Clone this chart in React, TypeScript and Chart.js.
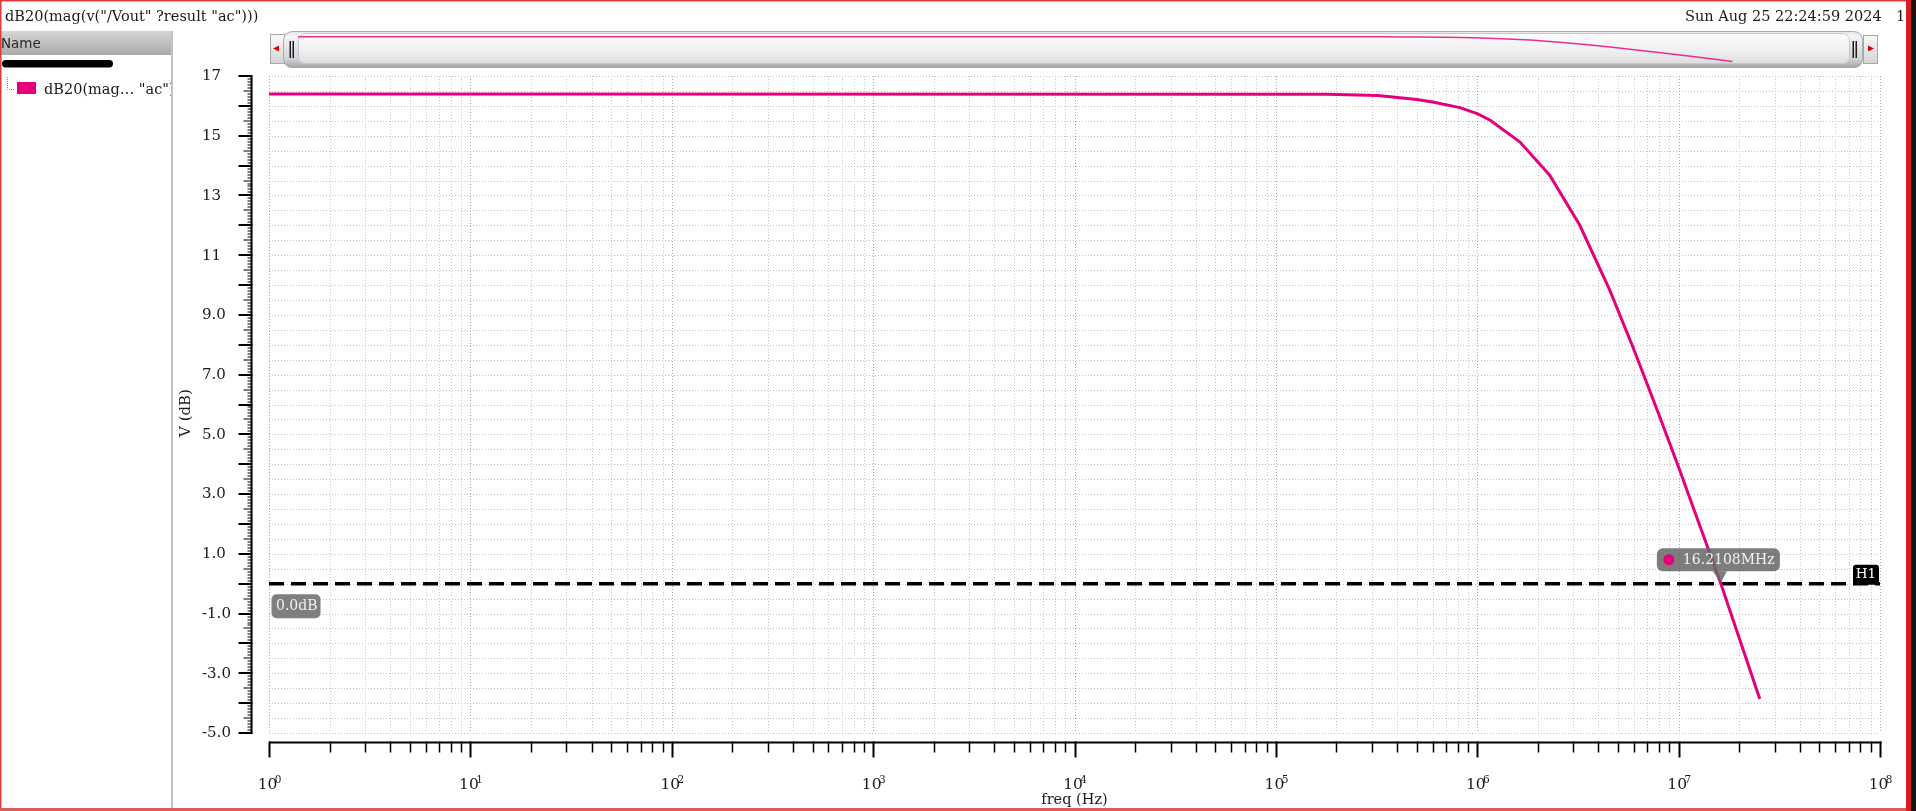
import React, { useEffect, useRef } from "react";
import { Chart, registerables } from "chart.js";

Chart.register(...registerables);

// ---------------- data ----------------
const freqHz = [1, 1.79e5, 3.2e5, 3.8e5, 5.0e5, 6.0e5, 8.2e5, 1.0e6, 1.16e6, 1.63e6, 2.29e6, 3.23e6, 4.55e6, 6.07e6, 8.1e6, 1.0e7, 1.621e7, 2.53e7];
const gainDb = [16.4, 16.39, 16.35, 16.3, 16.21, 16.13, 15.94, 15.74, 15.52, 14.79, 13.68, 12.0, 9.83, 7.75, 5.55, 3.9, 0.0, -3.86];

const yTickValues = [17, 15, 13, 11, 9, 7, 5, 3, 1, -1, -3, -5];
const yTickLabels = ["17", "15", "13", "11", "9.0", "7.0", "5.0", "3.0", "1.0", "-1.0", "-3.0", "-5.0"];
const xDecadeExponents = ["0", "1", "2", "3", "4", "5", "6", "7", "8"];

const markerLevelDb = 0;
const markerLevelLabel = "0.0dB";
const markerFreqHz = 16.2108e6;
const markerFreqLabel = "16.2108MHz";
const markerName = "H1";

const titleText = 'dB20(mag(v("/Vout" ?result "ac")))';
const dateText = "Sun Aug 25 22:24:59 2024";
const windowNumber = "1";
const legendText = 'dB20(mag\u2026 "ac")';
const panelHeader = "Name";
const xAxisTitle = "freq (Hz)";
const yAxisTitle = "V (dB)";

// ---------------- styling ----------------
const W = 1916;
const H = 811;
const CURVE = "#e4007c";
const SERIF = '"DejaVu Serif"';
const SANS = '"DejaVu Sans"';

function roundRect(ctx: CanvasRenderingContext2D, x: number, y: number, w: number, h: number, r: number) {
  ctx.beginPath();
  ctx.moveTo(x + r, y);
  ctx.lineTo(x + w - r, y);
  ctx.arcTo(x + w, y, x + w, y + r, r);
  ctx.lineTo(x + w, y + h - r);
  ctx.arcTo(x + w, y + h, x + w - r, y + h, r);
  ctx.lineTo(x + r, y + h);
  ctx.arcTo(x, y + h, x, y + h - r, r);
  ctx.lineTo(x, y + r);
  ctx.arcTo(x, y, x + r, y, r);
  ctx.closePath();
}

function drawChrome(ctx: CanvasRenderingContext2D) {
  ctx.save();
  ctx.fillStyle = "#ffffff";
  ctx.fillRect(0, 0, W, H);

  // title + date
  ctx.fillStyle = "#1a1a1a";
  ctx.font = `14.5px ${SERIF}`;
  ctx.textAlign = "left";
  ctx.textBaseline = "alphabetic";
  ctx.fillText(titleText, 5, 20.5);
  ctx.fillText(dateText, 1685, 20.5);
  ctx.fillText(windowNumber, 1896, 20.5);

  // left panel header
  const g = ctx.createLinearGradient(0, 31, 0, 55);
  g.addColorStop(0, "#d6d6d6");
  g.addColorStop(1, "#aaaaaa");
  ctx.fillStyle = g;
  ctx.fillRect(0, 31, 172, 24);
  ctx.fillStyle = "#2a2a2a";
  ctx.font = `13.5px ${SANS}`;
  ctx.fillText(panelHeader, 1, 47.5);

  // panel separator
  ctx.fillStyle = "#c2c2c2";
  ctx.fillRect(171, 31, 2, 777);

  // black bar
  ctx.fillStyle = "#000";
  roundRect(ctx, 2, 60, 111, 7.5, 3.7);
  ctx.fill();

  // tree dotted lines
  ctx.strokeStyle = "#8a8a8a";
  ctx.lineWidth = 1;
  ctx.setLineDash([1, 1]);
  ctx.beginPath();
  ctx.moveTo(7.5, 77);
  ctx.lineTo(7.5, 89.5);
  ctx.lineTo(14, 89.5);
  ctx.stroke();
  ctx.setLineDash([]);

  // legend swatch + text
  ctx.fillStyle = CURVE;
  ctx.fillRect(17, 82, 19, 12);
  ctx.save();
  ctx.beginPath();
  ctx.rect(0, 70, 171, 40);
  ctx.clip();
  ctx.fillStyle = "#1a1a1a";
  ctx.font = `14.5px ${SERIF}`;
  ctx.fillText(legendText, 44, 93.5);
  ctx.restore();

  // scrollbar: left button
  const bg = ctx.createLinearGradient(0, 34, 0, 64);
  bg.addColorStop(0, "#fafafa");
  bg.addColorStop(1, "#d4d4d4");
  ctx.fillStyle = bg;
  ctx.fillRect(270, 34, 14, 30);
  ctx.strokeStyle = "#a8a8a8";
  ctx.lineWidth = 1;
  ctx.strokeRect(270.5, 34.5, 14, 29);
  ctx.fillStyle = "#e00000";
  ctx.beginPath();
  ctx.moveTo(273, 48.5);
  ctx.lineTo(279, 45.5);
  ctx.lineTo(279, 51.5);
  ctx.closePath();
  ctx.fill();

  // right button
  ctx.fillStyle = bg;
  ctx.fillRect(1863, 35, 15, 29);
  ctx.strokeStyle = "#a8a8a8";
  ctx.strokeRect(1863.5, 35.5, 14, 28);
  ctx.fillStyle = "#e00000";
  ctx.beginPath();
  ctx.moveTo(1874, 48.5);
  ctx.lineTo(1868, 45.5);
  ctx.lineTo(1868, 51.5);
  ctx.closePath();
  ctx.fill();

  // thumb outer
  const tg = ctx.createLinearGradient(0, 31, 0, 68);
  tg.addColorStop(0, "#e6e6e6");
  tg.addColorStop(0.15, "#f4f4f4");
  tg.addColorStop(0.75, "#d2d4d6");
  tg.addColorStop(1, "#9ca3aa");
  ctx.fillStyle = tg;
  roundRect(ctx, 283, 31, 1580, 37, 9);
  ctx.fill();
  ctx.strokeStyle = "#a4aab0";
  ctx.lineWidth = 1;
  roundRect(ctx, 283.5, 31.5, 1579, 36, 9);
  ctx.stroke();

  // thumb inner
  const ig = ctx.createLinearGradient(0, 33, 0, 64);
  ig.addColorStop(0, "#fdfdfd");
  ig.addColorStop(0.6, "#efefef");
  ig.addColorStop(1, "#dcdcdc");
  ctx.fillStyle = ig;
  roundRect(ctx, 298, 33, 1552, 31, 7);
  ctx.fill();
  ctx.strokeStyle = "#c4c8cc";
  roundRect(ctx, 298.5, 33.5, 1551, 30, 7);
  ctx.stroke();

  // grips
  ctx.fillStyle = "#1e1e1e";
  for (const gx of [289.5, 292.5, 1852.5, 1855.5]) {
    ctx.fillRect(gx, 41, 1.5, 17);
  }
  ctx.restore();
}

function drawAxes(chart: any) {
  const ctx: CanvasRenderingContext2D = chart.ctx;
  const xs = chart.scales.x;
  const ys = chart.scales.y;
  const x0 = xs.getPixelForValue(1);
  const x1 = xs.getPixelForValue(1e8);
  const yTop = ys.getPixelForValue(17);
  const yBot = ys.getPixelForValue(-5);
  ctx.save();

  // horizontal grid (every 0.5)
  ctx.lineWidth = 1;
  ctx.setLineDash([1, 2]);
  ctx.strokeStyle = "#c2c2c2";
  for (let i = 0; i <= 44; i++) {
    const y = Math.round(ys.getPixelForValue(-5 + i * 0.5)) + 0.5;
    ctx.beginPath();
    ctx.moveTo(x0, y);
    ctx.lineTo(x1, y);
    ctx.stroke();
  }
  // vertical grid
  for (let d = 0; d <= 8; d++) {
    for (let k = 1; k <= 9; k++) {
      if (d === 8 && k > 1) break;
      const x = Math.round(xs.getPixelForValue(k * Math.pow(10, d))) + 0.5;
      ctx.strokeStyle = k === 1 ? "#a6a6a6" : "#c8c8c8";
      ctx.beginPath();
      ctx.moveTo(x, yTop);
      ctx.lineTo(x, yBot);
      ctx.stroke();
    }
  }
  ctx.setLineDash([]);

  // y axis line and ticks
  ctx.fillStyle = "#000";
  const axX = 250.5;
  ctx.fillRect(axX, yTop, 2, yBot - yTop + 1);
  for (let i = 0; i <= 220; i++) {
    const v = -5 + i * 0.1;
    const y = Math.round(ys.getPixelForValue(v));
    let len = 5;
    let lw = 1;
    if (i % 10 === 0) {
      len = 14;
      lw = 2;
    } else if (i % 5 === 0) {
      len = 9;
    }
    ctx.fillRect(axX + 2 - len, y - lw / 2, len, lw);
  }
  // y labels
  ctx.fillStyle = "#1a1a1a";
  ctx.font = `15px ${SERIF}`;
  ctx.textAlign = "left";
  ctx.textBaseline = "middle";
  yTickValues.forEach((v, i) => {
    ctx.fillText(yTickLabels[i], 202, ys.getPixelForValue(v) + 0.5);
  });

  // x axis line and ticks
  ctx.fillStyle = "#000";
  const axY = 741.5;
  ctx.fillRect(x0, axY, x1 - x0 + 1.5, 2);
  for (let d = 0; d <= 8; d++) {
    for (let k = 1; k <= 9; k++) {
      if (d === 8 && k > 1) break;
      const x = Math.round(xs.getPixelForValue(k * Math.pow(10, d)));
      if (k === 1) ctx.fillRect(x - 0.5, axY, 2, 16);
      else ctx.fillRect(x - 0.25, axY, 1.5, 11);
    }
  }
  // x labels 10^n
  ctx.fillStyle = "#1a1a1a";
  ctx.textBaseline = "alphabetic";
  xDecadeExponents.forEach((e, i) => {
    const px = xs.getPixelForValue(Math.pow(10, i));
    ctx.font = `15.5px ${SERIF}`;
    const w = ctx.measureText("10").width;
    const left = px - w / 2 - 1.5;
    ctx.fillText("10", left, 789);
    ctx.font = `10.5px ${SERIF}`;
    ctx.fillText(e, left + w - 2.5, 783);
  });

  // axis titles
  ctx.font = `14.5px ${SERIF}`;
  ctx.textAlign = "center";
  ctx.fillText(xAxisTitle, (x0 + x1) / 2, 804);
  ctx.save();
  ctx.translate(186, 413);
  ctx.rotate(-Math.PI / 2);
  ctx.textBaseline = "middle";
  ctx.font = `15px ${SERIF}`;
  ctx.fillText(yAxisTitle, 0, 0);
  ctx.restore();

  ctx.restore();
}

function drawMarkers(chart: any) {
  const ctx: CanvasRenderingContext2D = chart.ctx;
  const xs = chart.scales.x;
  const ys = chart.scales.y;
  const cy = ys.getPixelForValue(markerLevelDb);
  const cx = xs.getPixelForValue(markerFreqHz);
  const xl = xs.getPixelForValue(1);
  const xr = xs.getPixelForValue(1e8);
  ctx.save();

  // level label
  ctx.fillStyle = "#7f7f7f";
  roundRect(ctx, xl + 2.5, cy + 10.5, 49, 24, 5);
  ctx.fill();
  ctx.fillStyle = "#f0f0f0";
  ctx.font = `14px ${SERIF}`;
  ctx.textAlign = "left";
  ctx.textBaseline = "middle";
  ctx.fillText(markerLevelLabel, xl + 7, cy + 23);

  // H1 label
  ctx.fillStyle = "#000";
  roundRect(ctx, xr - 27, cy - 19, 26, 20, 3);
  ctx.fill();
  ctx.fillStyle = "#ffffff";
  ctx.font = `13.5px ${SERIF}`;
  ctx.textAlign = "center";
  ctx.fillText(markerName, xr - 14, cy - 9.5);

  // frequency label with pointer
  const bl = cx - 64;
  const bt = cy - 35.5;
  const bw = 123;
  const bh = 23;
  ctx.fillStyle = "rgba(104,104,104,0.86)";
  roundRect(ctx, bl, bt, bw, bh, 6);
  ctx.fill();
  ctx.beginPath();
  ctx.moveTo(cx - 8, bt + bh);
  ctx.lineTo(cx + 6, bt + bh);
  ctx.lineTo(cx, cy - 1);
  ctx.closePath();
  ctx.fill();
  ctx.fillStyle = CURVE;
  ctx.beginPath();
  ctx.arc(bl + 12, bt + 11.5, 5.5, 0, Math.PI * 2);
  ctx.fill();
  ctx.fillStyle = "#f2f2f2";
  ctx.font = `14px ${SERIF}`;
  ctx.textAlign = "left";
  ctx.fillText(markerFreqLabel, bl + 26, bt + 12);
  ctx.restore();
}

function drawFrame(ctx: CanvasRenderingContext2D) {
  ctx.save();
  ctx.fillStyle = "#e03a3a";
  ctx.fillRect(0, 0, W, 1.5);
  ctx.fillRect(0, 0, 1.5, H);
  ctx.fillStyle = "#e05a5a";
  ctx.fillRect(0, 808, W, 3);
  ctx.fillStyle = "#d81e1e";
  ctx.fillRect(1906, 0, 5, H);
  ctx.fillStyle = "#141414";
  ctx.fillRect(1911, 0, 5, H);
  ctx.restore();
}

const chromePlugin = {
  id: "chrome",
  beforeDraw(chart: any) {
    drawChrome(chart.ctx);
  },
  beforeDatasetsDraw(chart: any) {
    drawAxes(chart);
  },
  afterDatasetsDraw(chart: any) {
    drawMarkers(chart);
  },
  afterDraw(chart: any) {
    drawFrame(chart.ctx);
  },
};

export default function App() {
  const mainRef = useRef<HTMLCanvasElement>(null);
  const ovRef = useRef<HTMLCanvasElement>(null);

  useEffect(() => {
    const points = freqHz.map((f, i) => ({ x: f, y: gainDb[i] }));
    const main = new Chart(mainRef.current as HTMLCanvasElement, {
      type: "scatter",
      data: {
        datasets: [
          {
            data: points,
            showLine: true,
            borderColor: CURVE,
            backgroundColor: CURVE,
            borderWidth: 3,
            pointRadius: 0,
            tension: 0,
          },
          {
            data: [
              { x: 1, y: markerLevelDb },
              { x: 1e8, y: markerLevelDb },
            ],
            showLine: true,
            borderColor: "#000000",
            borderWidth: 3.5,
            borderDash: [15, 7],
            pointRadius: 0,
          },
        ],
      },
      options: {
        animation: false,
        responsive: false,
        devicePixelRatio: 1,
        events: [],
        layout: { padding: { left: 269, top: 76, right: 36, bottom: 78 } },
        scales: {
          x: { type: "logarithmic", min: 1, max: 1e8, display: false },
          y: { type: "linear", min: -5, max: 17, display: false },
        },
        plugins: { legend: { display: false }, tooltip: { enabled: false } },
      } as any,
      plugins: [chromePlugin],
    });

    const ov = new Chart(ovRef.current as HTMLCanvasElement, {
      type: "scatter",
      data: {
        datasets: [
          {
            data: points,
            showLine: true,
            borderColor: "#e8308c",
            borderWidth: 1.5,
            pointRadius: 0,
            clip: false,
          } as any,
        ],
      },
      options: {
        animation: false,
        responsive: false,
        devicePixelRatio: 1,
        events: [],
        layout: { padding: 0 },
        scales: {
          x: { type: "logarithmic", min: 1, max: 1e8, display: false },
          y: { type: "linear", min: -5, max: 17, display: false },
        },
        plugins: { legend: { display: false }, tooltip: { enabled: false } },
      } as any,
    });

    return () => {
      main.destroy();
      ov.destroy();
    };
  }, []);

  return (
    <div style={{ position: "fixed", left: 0, top: 0, width: W, height: H, background: "#fff", overflow: "hidden" }}>
      <canvas ref={mainRef} width={W} height={H} style={{ position: "absolute", left: 0, top: 0, width: W, height: H }} />
      <canvas ref={ovRef} width={1550} height={27} style={{ position: "absolute", left: 298, top: 36, width: 1550, height: 27 }} />
    </div>
  );
}
